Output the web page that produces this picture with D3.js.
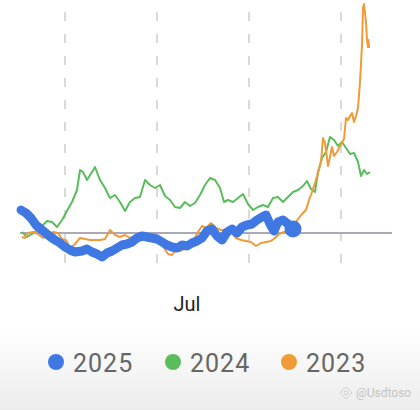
<!DOCTYPE html>
<html><head><meta charset="utf-8">
<script src="https://cdn.jsdelivr.net/npm/d3@7"></script>
<style>html,body{margin:0;padding:0;background:#fff;}svg{display:block;}</style>
</head><body>
<svg id="c" width="420" height="410"></svg>
<script>
// Series: [day index, % change from start]
const s2025 = [[0.5,23],[3,20],[5.5,15],[8,8],[11,3],[14,-2],[17.5,-7],[20,-10],[22.5,-14],[25,-17],[27.5,-19],[31,-18],[33.5,-16],[36,-19],[38.5,-21],[41,-24],[43.5,-20],[46,-18],[48.5,-15],[51,-12],[53.5,-11],[56,-9],[58.5,-5],[61,-3],[63.5,-4],[66,-5],[68.5,-6],[71,-9],[73.5,-12],[76,-14],[78.5,-15],[81,-12],[83.5,-13],[86,-10],[88.5,-8],[91,-5],[93.5,2],[96,4],[98.5,-3],[101,-7],[103.5,1],[106,4],[108.5,0],[111,6],[113.5,8],[116,9],[118.5,13],[121,16],[123,18],[125,9],[127,2],[129,11],[131.5,13],[134,9],[136.5,4]];
const s2024 = [[1,1],[3.5,-4],[6,-1],[8.5,3],[11,7],[13.5,12],[16,11],[18.5,6],[21,13],[23.5,22],[26,31],[28.5,43],[30,63],[31.5,61],[33.5,53],[36,61],[37.5,66],[40,53],[42.5,45],[45,35],[47.5,38],[50,31],[52.5,22],[55,31],[57.5,35],[60,36],[62.5,53],[65,48],[67.5,45],[70,48],[72.5,37],[75,33],[77.5,26],[80,25],[82.5,31],[85,27],[87.5,30],[90,38],[92.5,48],[95,55],[97.5,53],[100,45],[102,31],[104,33],[106.5,31],[109,35],[111.5,39],[114,29],[116.5,23],[119,26],[121.5,28],[124,26],[126.5,35],[129,36],[131.5,31],[134,36],[136.5,41],[139,43],[141.5,47],[143.5,52],[145.5,44],[147.5,41],[149,61],[151,75],[153,81],[155,96],[157,93],[159,87],[161,91],[163,85],[165,79],[167,80],[169,71],[170.5,57],[172,63],[173.5,59],[175,61]];
const s2023 = [[1,-4],[2.5,-5],[4,0],[6.5,1],[9,-1],[11.5,-5],[14,-2],[16.5,1],[19,0],[21,-6],[23,-7],[25,-15],[27.5,-11],[30,-5],[32.5,-6],[35,-7],[37.5,-7],[40,-7],[42.5,-6],[45,3],[47.5,-2],[50,-4],[52.5,-2],[55,-5],[57.5,-3],[60,-5],[62.5,-4],[65,-7],[67.5,-9],[70,-9],[72,-15],[74,-21],[76,-22],[78,-17],[80,-18],[82,-16],[84,-13],[86.5,-9],[89,1],[91,7],[93,5],[95.5,10],[98,5],[100.5,3],[103,3],[105.5,1],[108,-5],[110.5,-7],[113,-8],[115.5,-9],[118,-13],[120.5,-10],[123,-9],[125.5,-8],[127.5,-5],[129.5,-1],[132,1],[134.5,3],[137,7],[139,14],[141,19],[143,23],[144.5,33],[146,41],[147.5,50],[149,60],[150.5,71],[151.5,95],[152.5,90],[154,67],[155,76],[156,86],[157,77],[158.5,81],[160,87],[162,94],[163,115],[164,113],[165,117],[166,120],[167,111],[168,117],[169,125],[170,151],[171,188],[171.5,225],[172,229],[173,211],[173.5,193],[174,186],[174.25,193],[174.5,185]];
const gridDays = [22.5, 68.5, 114.5, 160.5];
const xLabels = [{day:83.5, text:"Jul"}];
const legendNames = ["2025","2024","2023"];
const colors = ["#3f77e3","#5abd5c","#f09a38"];

const svg = d3.select("#c");
const defs = svg.append("defs");
const grad = defs.append("linearGradient").attr("id","bg").attr("x1",0).attr("x2",0).attr("y1",0).attr("y2",1);
grad.append("stop").attr("offset","0").attr("stop-color","#ffffff");
grad.append("stop").attr("offset","0.8").attr("stop-color","#ffffff");
grad.append("stop").attr("offset","1").attr("stop-color","#ececec");
svg.append("rect").attr("width",420).attr("height",410).attr("fill","url(#bg)");

const x = d3.scaleLinear().domain([0,186]).range([20,392]);
const y = d3.scaleLinear().domain([0,100]).range([233,133]);

// vertical dashed grid
svg.append("g").selectAll("line").data(gridDays).join("line")
  .attr("x1",d=>x(d)).attr("x2",d=>x(d)).attr("y1",12).attr("y2",265)
  .attr("stroke","#d9d9d9").attr("stroke-width",2).attr("stroke-dasharray","9 13");

// baseline
svg.append("line").attr("x1",x(0)).attr("x2",x(186)).attr("y1",y(0)).attr("y2",y(0))
  .attr("stroke","#a9a9b8").attr("stroke-width",2);

const line = d3.line().x(d=>x(d[0])).y(d=>y(d[1])).curve(d3.curveLinear);

svg.append("path").datum(s2024).attr("d",line).attr("fill","none")
  .attr("stroke",colors[1]).attr("stroke-width",2).attr("stroke-linejoin","round");
svg.append("path").datum(s2023).attr("d",line).attr("fill","none")
  .attr("stroke",colors[2]).attr("stroke-width",2).attr("stroke-linejoin","round");
svg.append("path").datum(s2025).attr("d",line).attr("fill","none")
  .attr("stroke",colors[0]).attr("stroke-width",9).attr("stroke-linejoin","round").attr("stroke-linecap","round");
const last = s2025[s2025.length-1];
svg.append("circle").attr("cx",x(last[0])).attr("cy",y(last[1])).attr("r",8.5).attr("fill",colors[0]);

// x label
svg.append("g").selectAll("text").data(xLabels).join("text")
  .attr("x",d=>x(d.day)).attr("y",311).attr("text-anchor","middle")
  .attr("font-family","Roboto, 'Noto Sans', sans-serif").attr("font-size",20).attr("fill","#1f1f1f")
  .text(d=>d.text);

// legend
const legX = [56, 173, 289];
const lg = svg.append("g").selectAll("g").data(legendNames).join("g")
  .attr("transform",(d,i)=>`translate(${legX[i]},362)`);
lg.append("circle").attr("r",8).attr("fill",(d,i)=>colors[i]);
lg.append("text").attr("x",17).attr("y",9.5)
  .attr("font-family","Roboto, 'Noto Sans', sans-serif").attr("font-size",25).attr("fill","#666666")
  .attr("letter-spacing",1).text(d=>d);

// watermark
const wm = svg.append("g").attr("transform","translate(346,393)");
wm.append("path").attr("d","M0,-6 L6,0 L0,6 L-6,0 Z").attr("fill","none").attr("stroke","#cfcfcf").attr("stroke-width",1);
wm.append("circle").attr("r",2).attr("fill","none").attr("stroke","#cfcfcf");
svg.append("text").attr("x",356).attr("y",397).attr("font-family","Roboto, sans-serif")
  .attr("font-size",12).attr("fill","#c4c4c4").text("@Usdtoso");
</script>
</body></html>
